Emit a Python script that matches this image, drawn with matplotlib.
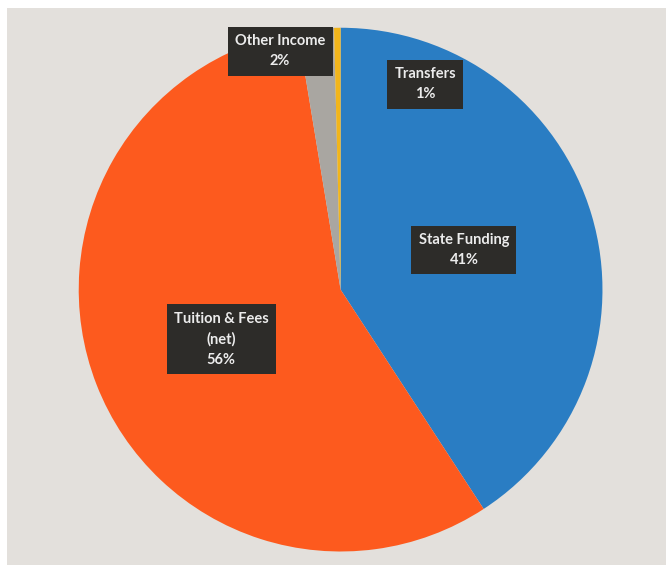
import matplotlib.pyplot as plt
from matplotlib.patches import Rectangle

# slice shares (clockwise from 12 o'clock)
categories = ["State Funding", "Tuition & Fees\n(net)", "Other Income", "Transfers"]
shares = [40.8, 56.6, 2.2, 0.4]
pct_labels = ["41%", "56%", "2%", "1%"]
colors = ["#2a7dc3", "#fd5a1e", "#a9a6a1", "#f2b51b"]

# label box centres, in pie units (radius = 1)
label_pos = [(0.471, 0.151), (-0.456, -0.189), (-0.231, 0.910), (0.323, 0.784)]

fig = plt.figure(figsize=(6.66, 5.65), dpi=100, facecolor="white")

# light grey panel behind the pie
fig.patches.append(Rectangle((7 / 666, 0), 1 - 7 / 666, 557 / 565,
                             transform=fig.transFigure, facecolor="#e3e0dc",
                             edgecolor="none", zorder=-10))

ax = fig.add_axes([0.1179, 0.0239, 0.787, 0.927])
ax.set_facecolor("none")
ax.set_zorder(5)

wedges, _ = ax.pie(shares, colors=colors, startangle=90, counterclock=False,
                   radius=1, wedgeprops=dict(linewidth=0))
ax.set_xlim(-1, 1)
ax.set_ylim(-1, 1)
ax.axis("off")

for name, pct, (x, y) in zip(categories, pct_labels, label_pos):
    ax.text(x, y, name + "\n" + pct, ha="center", va="center",
            fontsize=10.5, fontfamily="Lato", fontweight="bold",
            color="#ececec", linespacing=1.55,
            bbox=dict(boxstyle="square,pad=0.5", facecolor="#2d2c29",
                      edgecolor="none"))

fig.savefig("out.png", dpi=100, facecolor=fig.get_facecolor())
